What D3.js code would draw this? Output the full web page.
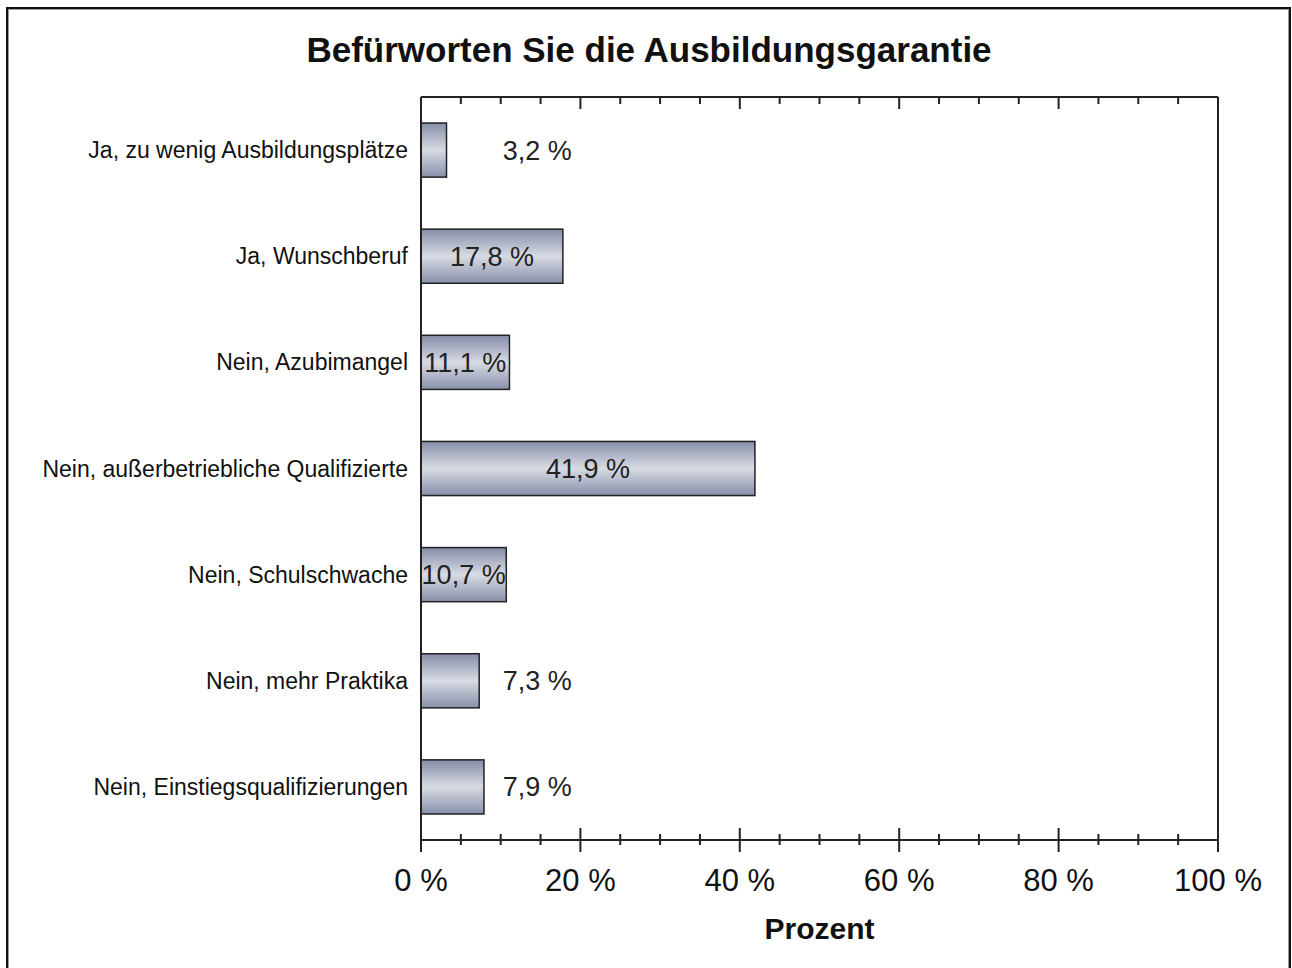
<!DOCTYPE html>
<html>
<head>
<meta charset="utf-8">
<script src="https://cdn.jsdelivr.net/npm/d3@7"></script>
<style>
  body { margin: 0; background: #fff; }
  svg { display: block; font-family: "Liberation Sans", Arial, sans-serif; }
</style>
</head>
<body>
<svg id="chart"></svg>
<script>
// data
var categories = [
  "Ja, zu wenig Ausbildungsplätze",
  "Ja, Wunschberuf",
  "Nein, Azubimangel",
  "Nein, außerbetriebliche Qualifizierte",
  "Nein, Schulschwache",
  "Nein, mehr Praktika",
  "Nein, Einstiegsqualifizierungen"
];
var values = [3.2, 17.8, 11.1, 41.9, 10.7, 7.3, 7.9];
var tickValues = [0, 20, 40, 60, 80, 100];
var tickLabels = ["0 %", "20 %", "40 %", "60 %", "80 %", "100 %"];

var data = categories.map(function(c, i) { return { cat: c, val: values[i] }; });

var W = 1292, H = 968;
var margin = { top: 97, right: 74, bottom: 128, left: 421 };
var width = W - margin.left - margin.right,
    height = H - margin.top - margin.bottom;

var fmt = function(v) { return d3.format(".1f")(v).replace(".", ",") + " %"; };

var svg = d3.select("#chart").attr("width", W).attr("height", H);

// outer frame (bottom edge runs off the page)
svg.append("rect").attr("x", 7).attr("y", 8).attr("width", 1283).attr("height", 980)
  .attr("fill", "none").attr("stroke", "#111").attr("stroke-width", 2);
svg.append("rect").attr("x", 8.5).attr("y", 9.5).attr("width", 1280).attr("height", 980)
  .attr("fill", "none").attr("stroke", "#999").attr("stroke-width", 1);

var defs = svg.append("defs");
var grad = defs.append("linearGradient").attr("id", "barGrad")
  .attr("x1", 0).attr("y1", 0).attr("x2", 0).attr("y2", 1);
grad.append("stop").attr("offset", "0%").attr("stop-color", "#858da8");
grad.append("stop").attr("offset", "50%").attr("stop-color", "#d7dbe3");
grad.append("stop").attr("offset", "100%").attr("stop-color", "#8890aa");

var g = svg.append("g").attr("transform", "translate(" + margin.left + "," + margin.top + ")");

var x = d3.scaleLinear().domain([0, 100]).range([0, width]);
var y = d3.scaleBand().domain(categories).range([0, height])
  .paddingInner(0.49).paddingOuter(0.245);

// title
svg.append("text").attr("x", 649).attr("y", 62).attr("text-anchor", "middle")
  .attr("font-size", 35).attr("font-weight", "bold").attr("fill", "#111")
  .text("Befürworten Sie die Ausbildungsgarantie");

// bars
g.selectAll("rect.bar").data(data).enter().append("rect")
  .attr("class", "bar")
  .attr("x", x(0))
  .attr("y", function(d) { return y(d.cat); })
  .attr("width", function(d) { return x(d.val) - x(0); })
  .attr("height", y.bandwidth())
  .attr("fill", "url(#barGrad)")
  .attr("stroke", "#222").attr("stroke-width", 1.5);

// value labels: inside when the bar is wide enough, otherwise to the right
var outsideAt = 14.6;
g.selectAll("text.val").data(data).enter().append("text")
  .attr("class", "val")
  .attr("x", function(d) { return d.val >= 10 ? x(d.val / 2) : x(outsideAt); })
  .attr("y", function(d) { return y(d.cat) + y.bandwidth() / 2; })
  .attr("dy", "0.35em").attr("text-anchor", "middle")
  .attr("font-size", 27).attr("fill", "#222")
  .text(function(d) { return fmt(d.val); });

// category labels
g.selectAll("text.cat").data(data).enter().append("text")
  .attr("class", "cat")
  .attr("x", -13)
  .attr("y", function(d) { return y(d.cat) + y.bandwidth() / 2; })
  .attr("dy", "0.35em").attr("text-anchor", "end")
  .attr("font-size", 23).attr("fill", "#111")
  .text(function(d) { return d.cat; });

var minorTicks = d3.range(0, 101, 5).filter(function(v) { return v % 20 !== 0; });

// bottom axis: ticks cross the line
var bottomAxis = g.append("g").attr("transform", "translate(0," + height + ")");
bottomAxis.append("line").attr("x1", 0).attr("x2", width).attr("stroke", "#222").attr("stroke-width", 2);
bottomAxis.selectAll("line.minor").data(minorTicks).enter().append("line")
  .attr("class", "minor")
  .attr("x1", x).attr("x2", x).attr("y1", -6).attr("y2", 5)
  .attr("stroke", "#222").attr("stroke-width", 2);
bottomAxis.selectAll("line.major").data(tickValues).enter().append("line")
  .attr("class", "major")
  .attr("x1", x).attr("x2", x).attr("y1", -12).attr("y2", 12)
  .attr("stroke", "#222").attr("stroke-width", 2);
bottomAxis.selectAll("text").data(tickValues).enter().append("text")
  .attr("x", x).attr("y", 51).attr("text-anchor", "middle")
  .attr("font-size", 31).attr("fill", "#111")
  .text(function(d, i) { return tickLabels[i]; });

// top axis: ticks point inward
var topAxis = g.append("g");
topAxis.append("line").attr("x1", 0).attr("x2", width).attr("stroke", "#222").attr("stroke-width", 2);
topAxis.selectAll("line.minor").data(minorTicks).enter().append("line")
  .attr("class", "minor")
  .attr("x1", x).attr("x2", x).attr("y1", 0).attr("y2", 7)
  .attr("stroke", "#222").attr("stroke-width", 2);
topAxis.selectAll("line.major").data(tickValues).enter().append("line")
  .attr("class", "major")
  .attr("x1", x).attr("x2", x).attr("y1", 0).attr("y2", 12)
  .attr("stroke", "#222").attr("stroke-width", 2);

// left and right frame lines
g.append("line").attr("x1", 0).attr("x2", 0).attr("y1", 0).attr("y2", height + 12)
  .attr("stroke", "#222").attr("stroke-width", 2);
g.append("line").attr("x1", width).attr("x2", width).attr("y1", 0).attr("y2", height + 12)
  .attr("stroke", "#222").attr("stroke-width", 2);

// axis title
g.append("text").attr("x", width / 2).attr("y", height + 99).attr("text-anchor", "middle")
  .attr("font-size", 30).attr("font-weight", "bold").attr("fill", "#111")
  .text("Prozent");
</script>
</body>
</html>
